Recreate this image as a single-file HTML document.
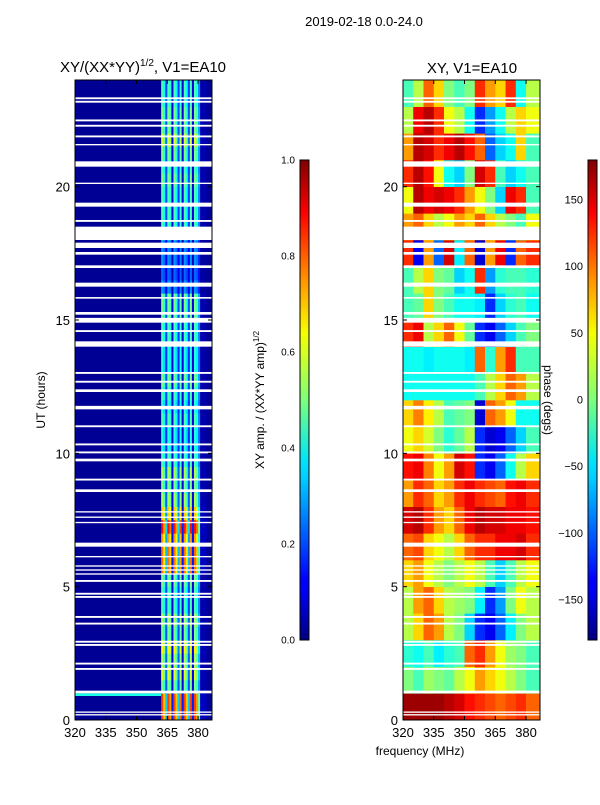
<!DOCTYPE html>
<html><head><meta charset="utf-8"><style>
body{margin:0;background:#fff;font-family:"Liberation Sans",sans-serif}
svg text{font-family:"Liberation Sans",sans-serif}
</style></head><body>
<svg id="fig" width="600" height="800" viewBox="0 0 600 800">
<defs>
<linearGradient id="jet" x1="0" y1="1" x2="0" y2="0">
<stop offset="0" stop-color="#000080"/><stop offset="0.11" stop-color="#0000ff"/>
<stop offset="0.125" stop-color="#0000ff"/><stop offset="0.34" stop-color="#00d0ff"/>
<stop offset="0.375" stop-color="#00e5f8"/><stop offset="0.5" stop-color="#7dff7a"/>
<stop offset="0.64" stop-color="#f7ff00"/><stop offset="0.75" stop-color="#ff9400"/>
<stop offset="0.89" stop-color="#ff0000"/><stop offset="1" stop-color="#800000"/>
</linearGradient>
</defs>
<text x="364" y="26" font-size="13" text-anchor="middle">2019-02-18 0.0-24.0</text>
<text x="143" y="72" font-size="15" text-anchor="middle">XY/(XX*YY)<tspan font-size="10" dy="-6">1/2</tspan><tspan dy="6">, V1=EA10</tspan></text>
<text x="472" y="73" font-size="15" text-anchor="middle">XY, V1=EA10</text>
<g id="left"></g>
<g id="right"></g>
<g id="axes"></g>
<rect x="300" y="160" width="9" height="480" fill="url(#jet)" stroke="#000" stroke-width="1"/>
<rect x="588" y="160" width="9" height="480" fill="url(#jet)" stroke="#000" stroke-width="1"/>
<text transform="translate(264,400) rotate(-90)" font-size="12" text-anchor="middle">XY amp. / (XX*YY amp)<tspan font-size="8" dy="-5">1/2</tspan></text>
<text transform="translate(544,400) rotate(90)" font-size="12" text-anchor="middle">phase (degs)</text>
<text x="420" y="755" font-size="12" text-anchor="middle">frequency (MHz)</text>
<text transform="translate(45,400) rotate(-90)" font-size="12" text-anchor="middle">UT (hours)</text>
</svg>
<script>
const gaps=[[0.17,0.22],[0.27,0.32],[1.0,1.1],[1.88,1.95],[2.08,2.15],[2.78,2.85],[2.9,2.97],[3.58,3.65],[3.83,3.9],[4.58,4.65],[4.7,4.77],[5.18,5.25],[5.45,5.5],[5.6,5.65],[5.75,5.8],[6.1,6.15],[6.5,6.65],[7.38,7.43],[7.58,7.63],[7.78,7.83],[8.55,8.65],[8.98,9.05],[9.7,9.8],[10.0,10.07],[10.3,10.37],[10.98,11.05],[11.65,11.78],[12.3,12.4],[12.65,12.72],[12.98,13.05],[14.0,14.2],[14.55,14.62],[14.9,15.08],[15.2,15.3],[15.8,15.86],[16.25,16.4],[16.95,17.05],[17.45,17.55],[17.7,17.9],[18.0,18.5],[18.68,18.75],[19.25,19.4],[20.1,20.15],[20.75,20.95],[21.55,21.6],[21.85,21.92],[22.25,22.32],[22.45,22.52],[23.15,23.22],[23.28,23.35]];
const ampLevels=[0.9,0.9,0.55,0.65,0.6,0.7,0.55,0.6,0.5,0.5,0.55,0.85,0.85,0.8,0.95,0.75,0.6,0.55,0.6,0.5,0.45,0.45,0.5,0.45,0.5,0.55,0.45,0.45,0.5,0.5,0.55,0.55,0.3,0.25,0.3,0.3,0.5,0.5,0.5,0.5,0.55,0.5,0.55,0.65,0.55,0.55,0.5,0.5];
const ampBackground=0.02;
const bandFreqs=[362,363,364,365,366,367,368,369,370,371,372,373,374,375,376,377,378,379,380,381,382,383];
const bandFactor=[0.9,0.75,0.35,0.9,0.8,0.15,0.9,0.75,0.35,0.85,0.15,0.9,0.75,0.35,0.9,0.15,0.9,0.8,0.5,0.05,0.05,0.05];
const phaseFreqs=[320,325,330,335,340,345,350,355,360,365,370,375,380];
const phaseRows=[
[170,170,170,170,160,150,130,120,110,100,110,120,100],
[0,-20,10,0,-10,20,40,80,60,40,20,0,-20],
[-30,-40,-20,-50,-30,-20,100,120,80,40,10,0,-20],
[20,60,100,80,20,0,-60,-120,-140,-100,-50,0,20],
[20,80,100,60,20,10,0,-50,-120,-80,0,40,20],
[60,80,40,20,0,20,40,20,-20,-60,-20,20,40],
[100,110,60,40,20,60,100,120,120,140,140,150,120],
[150,160,120,80,60,100,140,160,150,150,140,140,130],
[80,120,100,60,80,120,140,120,110,100,130,140,120],
[130,140,90,40,80,150,130,-120,-140,-100,-40,20,60],
[40,60,30,0,-30,-10,20,-120,-150,-140,-100,-60,-20],
[60,90,50,20,-20,-10,0,-150,100,80,40,-40,-40],
[-40,-40,-40,-40,-40,-40,-40,-20,20,60,100,80,20],
[-40,-40,-50,-40,-40,-40,-50,100,-30,80,120,-20,-20],
[120,140,20,60,100,40,-10,-120,-140,-100,-60,-20,0],
[-20,-10,60,0,-20,-40,-40,-50,-120,-60,-30,-20,-40],
[-20,20,60,0,-10,-60,-40,120,-80,-30,-20,-20,-30],
[120,-140,80,-100,150,-50,100,-150,80,140,-120,100,120],
[80,100,60,20,40,80,60,100,60,20,0,-20,40],
[40,160,140,150,140,120,80,40,0,-60,140,120,-20],
[120,160,130,40,-40,-60,0,150,120,-20,-60,-40,-20],
[80,160,150,120,140,160,130,100,-100,-60,-40,60,-20],
[20,140,160,120,40,20,-40,-120,-80,-40,20,60,40],
[-20,20,100,60,0,-20,0,120,80,60,120,-40,20]];
const xTicks=[320,335,350,365,380];
const yTicks=[0,5,10,15,20];
const ampTicks=[0.0,0.2,0.4,0.6,0.8,1.0];
const phaseTicks=[-150,-100,-50,0,50,100,150];

const NS='http://www.w3.org/2000/svg';
const PT=80,PB=720,FMIN=320,FMAX=386.8;
const yOf=h=>PB-(PB-PT)*h/24;
function xOf(x0,f){return x0+(f-FMIN)*137/(FMAX-FMIN);}
function jet(v){v=Math.max(0,Math.min(1,v));
 const r=Math.min(4*v-1.5,-4*v+4.5),g=Math.min(4*v-0.5,-4*v+3.5),b=Math.min(4*v+0.5,-4*v+2.5);
 const c=x=>Math.round(255*Math.max(0,Math.min(1,x)));return `rgb(${c(r)},${c(g)},${c(b)})`;}
function rect(p,x,y,w,h,fill,name){const r=document.createElementNS(NS,'rect');
 r.setAttribute('x',x);r.setAttribute('y',y);r.setAttribute('width',w);r.setAttribute('height',h);r.setAttribute('fill',fill);
 
 
 p.appendChild(r);return r;}
function line(p,x1,y1,x2,y2,name){const l=document.createElementNS(NS,'line');
 l.setAttribute('x1',x1);l.setAttribute('y1',y1);l.setAttribute('x2',x2);l.setAttribute('y2',y2);l.setAttribute('stroke','#000');
 
 
 p.appendChild(l);}
function text(p,x,y,s,anchor,name,size){const t=document.createElementNS(NS,'text');
 t.setAttribute('x',x);t.setAttribute('y',y);t.setAttribute('text-anchor',anchor);t.setAttribute('font-size',size||12);t.textContent=s;
 
 
 p.appendChild(t);}

const L=document.getElementById('left');const LX=75;
rect(L,LX,PT,137,PB-PT,jet(ampBackground),'amp-background');
rect(L,LX,yOf(1.0),xOf(LX,362)-LX,yOf(0.9)-yOf(1.0),jet(0.4),'amp-cyan-band');
ampLevels.forEach((lv,i)=>{
 bandFreqs.forEach((f,j)=>{
  const v=ampBackground+(lv-ampBackground)*bandFactor[j];
  const x=xOf(LX,f);
  rect(L,x,yOf((i+1)/2),xOf(LX,f+1)-x+0.3,yOf(i/2)-yOf((i+1)/2)+0.3,jet(v),'amp-cell');
 });
});
const R=document.getElementById('right');const RX=403;
phaseRows.forEach((row,i)=>{
 row.forEach((ph,j)=>{
  const f0=phaseFreqs[j],f1=j+1<phaseFreqs.length?phaseFreqs[j+1]:FMAX;
  const x=xOf(RX,f0);
  rect(R,x,yOf(i+1),xOf(RX,f1)-x+0.3,yOf(i)-yOf(i+1)+0.3,jet((ph+180)/360),'phase-cell');
 });
});
[[L,LX],[R,RX]].forEach(([g,x0])=>gaps.forEach(([a,b])=>rect(g,x0,yOf(b),137,yOf(a)-yOf(b),'#fff','flagged-gap')));

const A=document.getElementById('axes');
[LX,RX].forEach(x0=>{
 const fr=rect(A,x0,PT,137,PB-PT,'none','plot-frame');fr.setAttribute('stroke','#000');
 xTicks.forEach(f=>{const x=xOf(x0,f);line(A,x,PB,x,PB-4,'x-tick');line(A,x,PT,x,PT+4,'x-tick');text(A,x,737,String(f),'middle','x-tick-label',13);});
 yTicks.forEach(h=>{const y=yOf(h);line(A,x0,y,x0+4,y,'y-tick');line(A,x0+137,y,x0+133,y,'y-tick');text(A,x0-5,y+5,String(h),'end','y-tick-label',13);});
});
ampTicks.forEach(v=>{const y=640-480*v;line(A,300,y,304,y,'cbar-tick');text(A,295,y+3.5,v.toFixed(1),'end','amp-cbar-label',10);});
phaseTicks.forEach(v=>{const y=640-480*(v+180)/360;line(A,588,y,592,y,'cbar-tick');text(A,583,y+3.5,v<0?'\u2212'+(-v):String(v),'end','phase-cbar-label',11);});
</script>
</body></html>
